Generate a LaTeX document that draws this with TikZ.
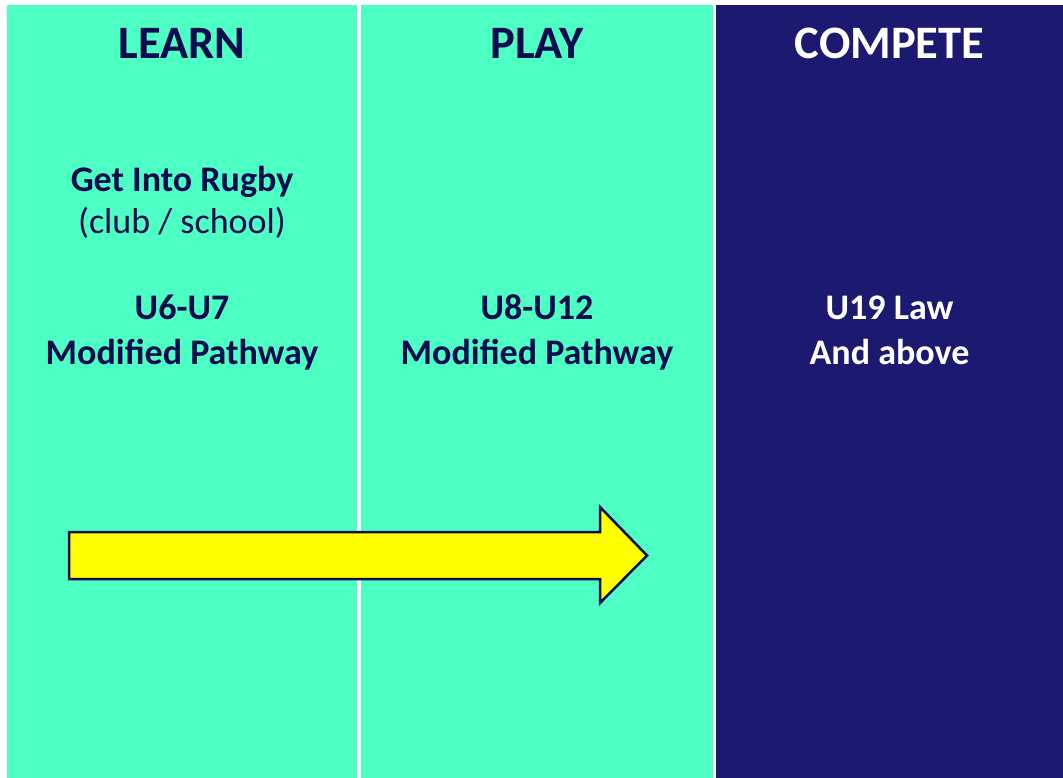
\documentclass[tikz,border=0pt]{standalone}
\usepackage{fontspec}
\setmainfont{Carlito}
\usepackage{xcolor}
\usepackage{tikz}
\usetikzlibrary{positioning}
\definecolor{mint}{HTML}{4EFFC4}
\definecolor{navy}{HTML}{1B1970}
\definecolor{ink}{HTML}{0C0B50}
\definecolor{sun}{HTML}{FFFF00}

\begin{document}
\begin{tikzpicture}[
  x=1pt, y=-1pt,
  every node/.style={inner sep=0pt, anchor=base},
  lane/.style   ={fill=#1, draw=none},
  head/.style   ={font=\fontsize{46.5}{50}\selectfont\bfseries, text=#1},
  body/.style   ={font=\fontsize{36}{40}\selectfont\bfseries, text=#1},
  plain/.style  ={font=\fontsize{36}{40}\selectfont, text=#1},
  bigarrow/.style={fill=sun, draw=ink, line width=2.5pt, line join=miter},
]

% ── Column edges and rows ──
\def\xA{7}   \def\xB{357}
\def\xC{361} \def\xD{713}
\def\xE{716} \def\xF{1063}
\def\yTop{5}
\def\yHead{59}
\def\yAge{319}
\def\yPath{364}

\useasboundingbox (0,0) rectangle (1063,778);
\fill[white] (0,0) rectangle (1063,778);

% ── Three lanes ──
\fill[lane=mint] (\xA,\yTop) rectangle (\xB,778);
\fill[lane=mint] (\xC,\yTop) rectangle (\xD,778);
\fill[lane=navy] (\xE,\yTop) rectangle (\xF,778);

% ── Headers ──
\node[head=ink]   (learn)   at (182,\yHead)   {LEARN};
\node[head=ink]   (play)    at (537,\yHead)   {PLAY};
\node[head=white] (compete) at (889.5,\yHead) {COMPETE};

% ── Learn column ──
\node[body=ink]  (gir)    at (182,192)    {Get Into Rugby};
\node[plain=ink] (club)   at (182,234)    {(club / school)};
\node[body=ink]  (ageA)   at (182,\yAge)  {U6-U7};
\node[body=ink]  (pathA)  at (182,\yPath) {Modified Pathway};

% ── Play column ──
\node[body=ink]  (ageB)   at (537,\yAge)  {U8-U12};
\node[body=ink]  (pathB)  at (537,\yPath) {Modified Pathway};

% ── Compete column ──
\node[body=white] (law)   at (889.5,\yAge)  {U19 Law};
\node[body=white] (above) at (889.5,\yPath) {And above};

% ── Progress arrow ──
\draw[bigarrow] (69,532) -- (600,532) -- (600,507) -- (647,555.5)
  -- (600,603) -- (600,579) -- (69,579) -- cycle;

\end{tikzpicture}
\end{document}
